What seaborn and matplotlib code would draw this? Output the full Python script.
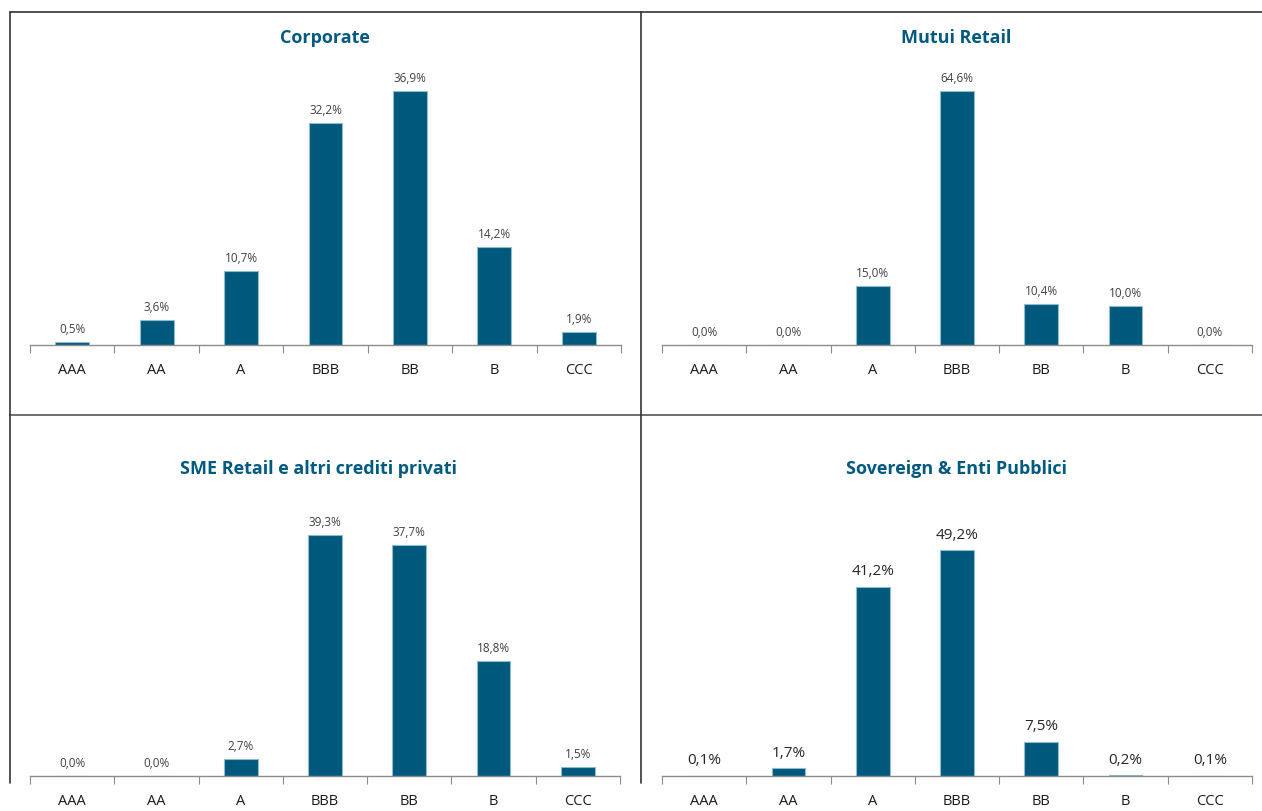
import pandas as pd
import seaborn as sns
import matplotlib as mpl
import matplotlib.pyplot as plt
from matplotlib.lines import Line2D

# data
ratings = ["AAA", "AA", "A", "BBB", "BB", "B", "CCC"]
titles = ["Corporate", "Mutui Retail", "SME Retail e altri crediti privati",
          "Sovereign & Enti Pubblici"]
corporate = [0.5, 3.6, 10.7, 32.2, 36.9, 14.2, 1.9]
mutui_retail = [0.0, 0.0, 15.0, 64.6, 10.4, 10.0, 0.0]
sme_retail = [0.0, 0.0, 2.7, 39.3, 37.7, 18.8, 1.5]
sovereign = [0.1, 1.7, 41.2, 49.2, 7.5, 0.2, 0.1]

sns.set_style("white")
mpl.rcParams["font.family"] = ["Open Sans", "DejaVu Sans"]

W, H = 1262, 812
BAR = "#00587c"
EDGE = "#8dbbd0"
TITLE = "#005a80"
AXIS = "#8c8c8c"

fig = plt.figure(figsize=(W / 100, H / 100), dpi=100)


def px_axes(left, top, right, bottom):
    return fig.add_axes([left / W, 1 - bottom / H, (right - left) / W, (bottom - top) / H])


def panel(values, title, box, title_xy, bar_px, big_labels=False):
    left, top, right, base = box
    ax = px_axes(left, top, right, base)
    df = pd.DataFrame({"rating": ratings, "value": values})
    sns.barplot(data=df, x="rating", y="value", order=ratings, color=BAR,
                saturation=1, width=0.4, edgecolor=EDGE, linewidth=0.8, ax=ax)
    # scale so the tallest bar reaches bar_px pixels
    ax.set_ylim(0, max(values) * (base - top) / bar_px)
    ax.set_xlim(-0.5, len(ratings) - 0.5)
    ax.set_xticks([i - 0.5 for i in range(len(ratings) + 1)])
    ax.set_xticklabels([])
    ax.set_xticks(range(len(ratings)), minor=True)
    ax.set_xticklabels(ratings, minor=True, fontsize=10.5, color="#1a1a1a")
    ax.tick_params(axis="x", which="both", bottom=True)
    ax.tick_params(axis="x", which="major", length=6, width=0.8, color=AXIS, direction="out")
    ax.tick_params(axis="x", which="minor", length=0, pad=12)
    ax.set_yticks([])
    ax.set_xlabel("")
    ax.set_ylabel("")
    for s in ["top", "right", "left"]:
        ax.spines[s].set_visible(False)
    ax.spines["bottom"].set_color(AXIS)
    ax.spines["bottom"].set_linewidth(1.0)
    for i, v in enumerate(values):
        lab = f"{v:.1f}".replace(".", ",") + "%"
        if big_labels:
            ax.annotate(lab, (i, v), xytext=(0, 6), textcoords="offset points",
                        ha="center", va="bottom", fontsize=11, color="#262626")
        else:
            ax.annotate(lab, (i, v), xytext=(0, 5), textcoords="offset points",
                        ha="center", va="bottom", fontsize=8.5, color="#404040")
    fig.text(title_xy[0] / W, 1 - title_xy[1] / H, title, ha="center", va="center",
             fontsize=13, fontweight="bold", color=TITLE)
    return ax


panel(corporate, titles[0], (30, 60, 621, 346), (325, 38), 254)
panel(mutui_retail, titles[1], (662, 60, 1252, 346), (956, 38), 254)
panel(sme_retail, titles[2], (30, 495, 620, 777), (318, 469), 241)
panel(sovereign, titles[3], (662, 495, 1252, 777), (956, 469), 226, big_labels=True)

# panel borders
lw = 1.2
fig.add_artist(Line2D([10 / W, 1], [1 - 13 / H, 1 - 13 / H], color="#333333", lw=lw))
fig.add_artist(Line2D([10 / W, 1], [1 - 416 / H, 1 - 416 / H], color="#555555", lw=lw))
fig.add_artist(Line2D([10 / W, 10 / W], [1 - 13 / H, 1 - 784 / H], color="#333333", lw=lw))
fig.add_artist(Line2D([641 / W, 641 / W], [1 - 13 / H, 1 - 784 / H], color="#333333", lw=lw))

fig.savefig("out.png", dpi=100)
